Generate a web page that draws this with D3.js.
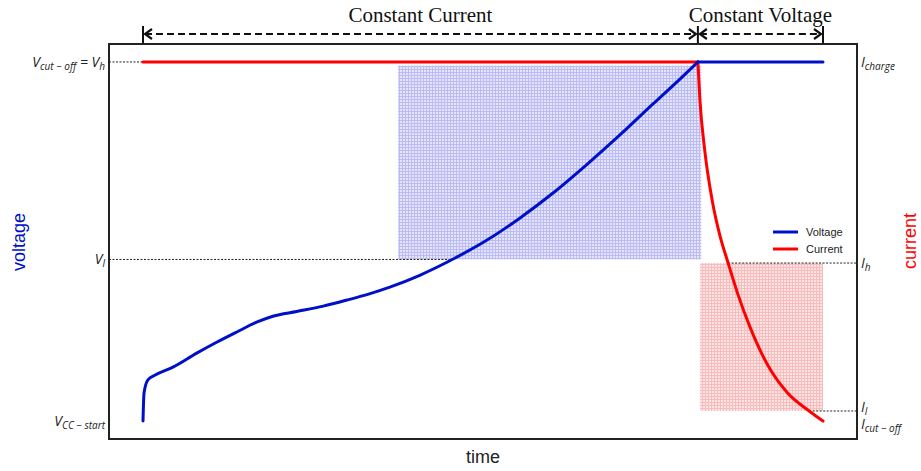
<!DOCTYPE html>
<html>
<head>
<meta charset="utf-8">
<title>CC-CV charging</title>
<script src="https://d3js.org/d3.v7.min.js"></script>
<style>
  body { margin: 0; background: #fff; }
  svg { display: block; }
  .lbl { font-family: "Open Sans", "DejaVu Sans", sans-serif; font-style: italic; fill: #222; }
</style>
</head>
<body>
<svg width="921" height="471"></svg>
<script>
// time runs 0..100 from the start of charging to cut-off
const voltageT = [0, 0.15, 0.7, 1.8, 4.4, 7.9, 10.9, 13.8, 16.8, 19.1, 22.6, 26.5, 30.0, 33.4, 36.3, 40.7, 45.9, 50.6, 55.4, 60.3, 65.3, 70.1, 75.0, 79.0, 81.6, 100];
const voltageV = [0, 7.8, 11.4, 12.8, 15.0, 18.9, 22.0, 24.8, 27.6, 29.2, 30.5, 32.0, 33.7, 35.5, 37.3, 40.6, 45.4, 50.4, 56.5, 63.5, 71.5, 79.6, 88.3, 95.3, 100, 100];
const currentT = [0, 81.6, 81.9, 82.6, 83.7, 84.9, 86.0, 87.5, 89.3, 91.8, 94.7, 98.1, 100];
const currentI = [100, 100, 89.4, 75.5, 61.5, 51.2, 44.3, 35.2, 26.0, 15.8, 8.0, 2.6, 0];

const phases = ["Constant Current", "Constant Voltage"];
const phaseBounds = [0, 81.6, 100];

const vLevels = [100, 45, 0];      // V_h, V_l, V_CC-start
const iLevels = [100, 44, 2.8, 0]; // I_charge, I_h, I_l, I_cut-off
const vLabels = [
  [["V", 0], ["cut − off", 1], [" = V", 0], ["h", 1]],
  [["V", 0], ["l", 1]],
  [["V", 0], ["CC − start", 1]]
];
const iLabels = [
  [["I", 0], ["charge", 1]],
  [["I", 0], ["h", 1]],
  [["I", 0], ["l", 1]],
  [["I", 0], ["cut − off", 1]]
];

const svg = d3.select("svg");
const x = d3.scaleLinear().domain([-5, 105]).range([109, 857]);
const y = d3.scaleLinear().domain([-5, 105]).range([439, 44]);

const voltage = voltageT.map((t, i) => ({ t, v: voltageV[i] }));
const current = currentT.map((t, i) => ({ t, v: currentI[i] }));

// where a series crosses a level (first crossing, linear)
function crossing(data, level) {
  for (let i = 1; i < data.length; i++) {
    const a = data[i - 1], b = data[i];
    if ((a.v - level) * (b.v - level) <= 0 && a.v !== b.v) {
      return a.t + (level - a.v) / (b.v - a.v) * (b.t - a.t);
    }
  }
  return data[0].t;
}

// hatch patterns
const defs = svg.append("defs");
function hatch(id, bg, fg) {
  const p = defs.append("pattern").attr("id", id).attr("patternUnits", "userSpaceOnUse")
    .attr("width", 3).attr("height", 3);
  p.append("rect").attr("width", 3).attr("height", 3).attr("fill", bg);
  p.append("rect").attr("width", 3).attr("height", 1).attr("fill", fg);
  p.append("rect").attr("width", 1).attr("height", 3).attr("fill", fg);
}
hatch("blueHatch", "#e4e4fd", "#bcbcf4");
hatch("redHatch", "#fde4e4", "#f9bcbc");

// shaded regions
const tBlue0 = 37.5;
svg.append("rect")
  .attr("x", x(tBlue0)).attr("y", y(99))
  .attr("width", x(82.1) - x(tBlue0)).attr("height", y(vLevels[1]) - y(99))
  .attr("fill", "url(#blueHatch)");
svg.append("rect")
  .attr("x", x(81.9)).attr("y", y(iLevels[1]))
  .attr("width", x(100) - x(81.9)).attr("height", y(iLevels[2]) - y(iLevels[1]))
  .attr("fill", "url(#redHatch)");

// dotted guide lines
function guideLine(t0, t1, lv) {
  svg.append("line").attr("x1", x(t0)).attr("x2", x(t1)).attr("y1", y(lv)).attr("y2", y(lv))
    .attr("stroke", "#222").attr("stroke-width", 1).attr("stroke-dasharray", "2,1.5");
}
guideLine(-5, phaseBounds[1], vLevels[0]);
guideLine(-5, crossing(voltage, vLevels[1]), vLevels[1]);
guideLine(crossing(current, iLevels[1]), 105, iLevels[1]);
guideLine(crossing(current, iLevels[2]), 105, iLevels[2]);

// curves: a sharp corner at the CC/CV switch, smooth elsewhere
const smooth = d3.line().x(d => x(d.t)).y(d => y(d.v)).curve(d3.curveMonotoneX);
const straight = d3.line().x(d => x(d.t)).y(d => y(d.v));
function drawSeries(data, split, color, curvedFirst) {
  const a = data.slice(0, split + 1), b = data.slice(split);
  const g = svg.append("g").attr("fill", "none").attr("stroke", color)
    .attr("stroke-width", 3).attr("stroke-linecap", "round").attr("stroke-linejoin", "round");
  g.append("path").attr("d", curvedFirst ? smooth(a) : straight(a));
  g.append("path").attr("d", curvedFirst ? straight(b) : smooth(b));
}
drawSeries(current, 1, "#ff0000", false);
drawSeries(voltage, voltage.length - 2, "#0010c8", true);

// frame
svg.append("rect").attr("x", x(-5)).attr("y", y(105))
  .attr("width", x(105) - x(-5)).attr("height", y(-5) - y(105))
  .attr("fill", "none").attr("stroke", "#222").attr("stroke-width", 2);

// level labels
function label(parts, px, py, anchor) {
  const t = svg.append("text").attr("class", "lbl").attr("x", px).attr("y", py + 5)
    .attr("text-anchor", anchor);
  parts.forEach(([s, sub], i) => {
    const prev = i > 0 ? parts[i - 1][1] : 0;
    t.append("tspan").text(s)
      .attr("font-size", sub ? 10 : 14)
      .attr("dy", sub === prev ? 0 : (sub ? 3 : -3));
  });
}
vLevels.forEach((lv, i) => label(vLabels[i], 105, y(lv), "end"));
label(iLabels[0], 861, y(iLevels[0]), "start");
label(iLabels[1], 861, y(iLevels[1]), "start");
label(iLabels[2], 861, y(iLevels[2]) - 4, "start");
label(iLabels[3], 861, y(iLevels[3]) + 3, "start");

// phase arrows
defs.append("marker").attr("id", "chev").attr("viewBox", "-10 -6 12 12")
  .attr("markerWidth", 12).attr("markerHeight", 12).attr("markerUnits", "userSpaceOnUse")
  .attr("refX", 0).attr("refY", 0).attr("orient", "auto-start-reverse")
  .append("path").attr("d", "M-7,-5 L0,0 L-7,5").attr("fill", "none")
  .attr("stroke", "#111").attr("stroke-width", 2.2);
const arrowY = 34;
phases.forEach((name, i) => {
  const a = x(phaseBounds[i]), b = x(phaseBounds[i + 1]);
  svg.append("line").attr("x1", a + 2).attr("x2", b - 2).attr("y1", arrowY).attr("y2", arrowY)
    .attr("stroke", "#111").attr("stroke-width", 2).attr("stroke-dasharray", "7,4")
    .attr("marker-start", "url(#chev)").attr("marker-end", "url(#chev)");
  svg.append("text").attr("x", (a + b) / 2).attr("y", 22).attr("text-anchor", "middle")
    .attr("font-family", "'Liberation Serif', 'Times New Roman', serif").attr("font-size", 21)
    .attr("fill", "#111").text(name);
});
phaseBounds.forEach(t => {
  svg.append("line").attr("x1", x(t)).attr("x2", x(t)).attr("y1", 26).attr("y2", 43)
    .attr("stroke", "#111").attr("stroke-width", 2);
});

// legend
const legend = [["Voltage", "#0010c8"], ["Current", "#ff0000"]];
legend.forEach(([name, c], i) => {
  const ly = 232 + i * 17;
  svg.append("line").attr("x1", 773).attr("x2", 798).attr("y1", ly).attr("y2", ly)
    .attr("stroke", c).attr("stroke-width", 3);
  svg.append("text").attr("x", 806).attr("y", ly + 4)
    .attr("font-family", "'Liberation Sans', Arial, sans-serif").attr("font-size", 11)
    .attr("fill", "#222").text(name);
});

// axis titles
svg.append("text").attr("transform", "translate(25,242) rotate(-90)").attr("text-anchor", "middle")
  .attr("font-family", "'Liberation Sans', Arial, sans-serif").attr("font-size", 18)
  .attr("fill", "#0010c8").text("voltage");
svg.append("text").attr("transform", "translate(916,241) rotate(-90)").attr("text-anchor", "middle")
  .attr("font-family", "'Liberation Sans', Arial, sans-serif").attr("font-size", 18)
  .attr("fill", "#ff0000").text("current");
svg.append("text").attr("x", (x(-5) + x(105)) / 2).attr("y", 463).attr("text-anchor", "middle")
  .attr("font-family", "'Liberation Sans', Arial, sans-serif").attr("font-size", 18)
  .attr("fill", "#222").text("time");
</script>
</body>
</html>
